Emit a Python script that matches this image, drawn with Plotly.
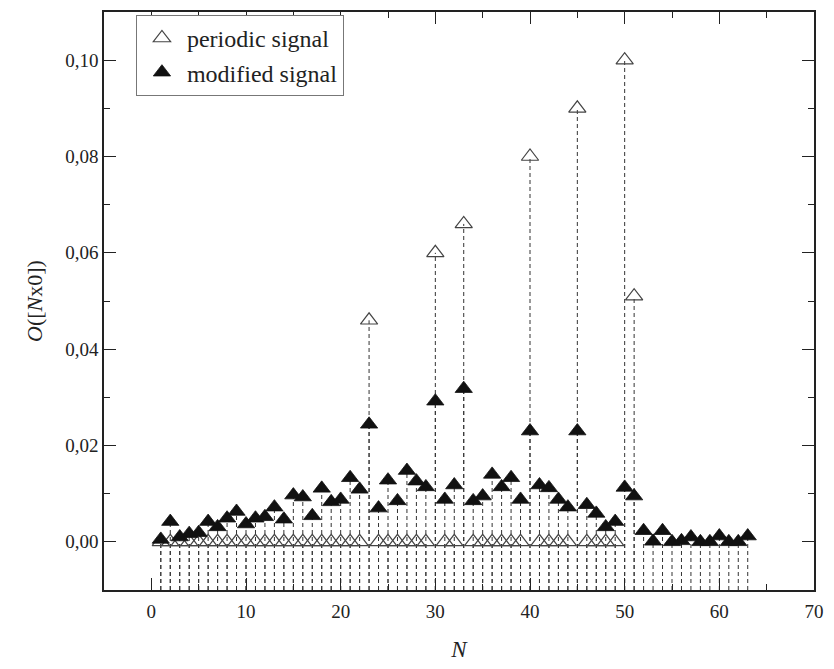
import plotly.graph_objects as go

# ---- data ----
N_periodic = list(range(1, 52))
periodic = [0.0] * 22 + [0.046] + [0.0] * 6 + [0.060] + [0.0] * 2 + [0.066] + [0.0] * 6 + [0.080] + [0.0] * 4 + [0.090] + [0.0] * 4 + [0.100, 0.051]

N_modified = list(range(1, 64))
modified = [
    0.0005, 0.0042, 0.0010, 0.0017, 0.0019, 0.0042, 0.0031, 0.0049, 0.0063, 0.0037,
    0.0049, 0.0052, 0.0072, 0.0047, 0.0097, 0.0093, 0.0054, 0.0111, 0.0083, 0.0088,
    0.0133, 0.0109, 0.0244, 0.0070, 0.0128, 0.0085, 0.0148, 0.0126, 0.0114, 0.0292,
    0.0088, 0.0118, 0.0318, 0.0085, 0.0095, 0.0140, 0.0114, 0.0133, 0.0088, 0.0230,
    0.0118, 0.0112, 0.0088, 0.0072, 0.0230, 0.0077, 0.0059, 0.0031, 0.0042, 0.0113,
    0.0095, 0.0023, 0.0001, 0.0023, 0.0000, 0.0002, 0.0010, 0.0000, 0.0000, 0.0012,
    0.0000, 0.0000, 0.0012,
]

X_RANGE = [-5, 70]
Y_RANGE = [-0.01, 0.11]
x_ticks = [0, 10, 20, 30, 40, 50, 60, 70]
y_ticks = [0.00, 0.02, 0.04, 0.06, 0.08, 0.10]


def drops(xs, ys, base):
    dx, dy = [], []
    for x, y in zip(xs, ys):
        dx += [x, x, None]
        dy += [base, y, None]
    return dx, dy


LINE_COL = "#333333"
DASH = "4px,3px"

fig = go.Figure()

px_, py_ = drops(N_periodic, periodic, Y_RANGE[0])
fig.add_trace(go.Scatter(x=px_, y=py_, mode="lines", showlegend=False, hoverinfo="skip",
                         line=dict(color=LINE_COL, width=1, dash=DASH)))
mx_, my_ = drops(N_modified, modified, Y_RANGE[0])
fig.add_trace(go.Scatter(x=mx_, y=my_, mode="lines", showlegend=False, hoverinfo="skip",
                         line=dict(color=LINE_COL, width=1, dash=DASH)))

fig.add_trace(go.Scatter(
    x=N_periodic, y=periodic, mode="markers", name="periodic signal",
    marker=dict(symbol="triangle-up-open", size=15, color="#444444", line=dict(width=1.2, color="#444444")),
))
fig.add_trace(go.Scatter(
    x=N_modified, y=modified, mode="markers", name="modified signal",
    marker=dict(symbol="triangle-up", size=15, color="#111111", line=dict(width=0.8, color="#111111")),
))

FONT = "Liberation Serif, Times New Roman, DejaVu Serif, serif"
axis_common = dict(
    showline=True, linecolor="#222222", linewidth=1.6, mirror="ticks",
    ticks="inside", ticklen=12, tickwidth=1.4, tickcolor="#222222",
    showgrid=False, zeroline=False,
    tickfont=dict(family=FONT, size=19, color="#222222"),
)

fig.update_xaxes(
    range=X_RANGE, tickvals=x_ticks, ticklabelstandoff=3,
    minor=dict(ticks="inside", ticklen=6, dtick=5, tick0=0, tickwidth=1.4, tickcolor="#222222"),
    title=dict(text="<i>N</i>", font=dict(family=FONT, size=23, color="#222222"), standoff=20),
    **axis_common,
)
fig.update_yaxes(
    range=Y_RANGE, tickvals=y_ticks, tickformat=".2f",
    minor=dict(ticks="inside", ticklen=6, dtick=0.01, tick0=0, tickwidth=1.4, tickcolor="#222222"),
    title=dict(text="<i>O</i>([<i>N</i>x0])", font=dict(family=FONT, size=22, color="#222222"), standoff=16),
    **axis_common,
)

fig.update_layout(
    width=834, height=669,
    margin=dict(l=104, r=12, t=10, b=79),
    paper_bgcolor="white", plot_bgcolor="white",
    separators=", ",
    showlegend=True,
    legend=dict(
        x=0.045, y=0.995, xanchor="left", yanchor="top",
        bgcolor="white", bordercolor="#777777", borderwidth=1,
        font=dict(family=FONT, size=24, color="#222222"),
        itemwidth=40, traceorder="normal",
    ),
)

fig.write_html(
    "out.html",
    config={"displayModeBar": False},
    post_script="document.body.style.margin='0';document.body.style.overflow='hidden';",
)
